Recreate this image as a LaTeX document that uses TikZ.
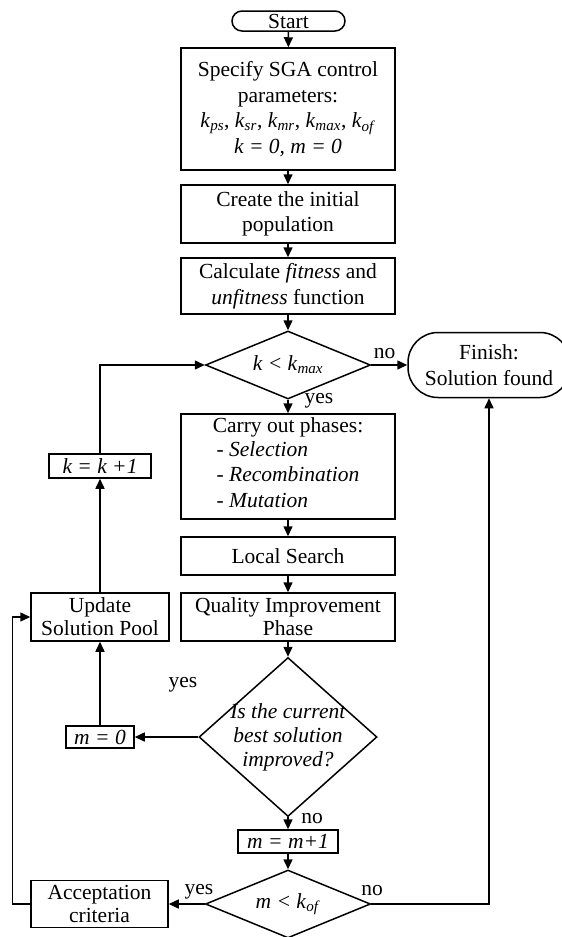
\documentclass[tikz,border=0pt]{standalone}
\usepackage{fontspec}
\setmainfont{Liberation Serif}
\usetikzlibrary{shapes.geometric,arrows.meta}

\newcommand{\ksub}[2]{\textit{#1}\textsubscript{\textit{#2}}}

\tikzset{
  block/.style={draw, line width=1.5pt, minimum width=214pt, align=center, inner sep=0pt},
  small/.style={draw, line width=1.5pt, align=center, inner sep=0pt},
  term/.style={draw, line width=1.5pt, align=center, inner sep=0pt},
  decision/.style={draw, diamond, line width=1.5pt, inner sep=0pt},
  flow/.style={line width=1.5pt, -{Triangle[length=10pt,width=9pt]}},
  tag/.style={inner sep=0pt},
  tight/.style={font=\fontsize{21.5}{23}\selectfont},
}

\begin{document}
\begin{tikzpicture}[x=1pt, y=-1pt, font=\fontsize{21.5}{25.5}\selectfont]
 \useasboundingbox (0,0) rectangle (562,937);

 % main column
 \node[term, rounded corners=10pt, minimum width=113pt, minimum height=20pt] (start) at (288.5,21) {Start};
 \node[block, minimum height=122pt] (spec) at (288,109)
   {Specify SGA control\\parameters:\\\ksub{k}{ps}, \ksub{k}{sr}, \ksub{k}{mr}, \ksub{k}{max}, \ksub{k}{of}\\\textit{k = 0, m = 0}};
 \node[block, minimum height=58pt] (create) at (288,214) {Create the initial\\population};
 \node[block, minimum height=56pt] (calc) at (288,286) {Calculate \textit{fitness} and\\\textit{unfitness} function};
 \node[decision, minimum width=165pt, minimum height=68pt,
       label={center:\textit{k <} \ksub{k}{max}}] (kmax) at (288,365) {};
 \node[term, rounded corners=30pt, minimum width=162pt, minimum height=65pt] (finish) at (489,365) {Finish:\\Solution found};
 \node[block, minimum height=105pt] (carry) at (288,466.5)
   {Carry out phases:\\{\begin{tabular}{@{}l@{}}- \textit{Selection}\\- \textit{Recombination}\\- \textit{Mutation}\end{tabular}}};
 \node[block, minimum height=38pt] (local) at (288,556) {Local Search};
 \node[block, tight, minimum height=48pt] (quality) at (288,617) {Quality Improvement\\Phase};
 \node[decision, minimum width=178pt, minimum height=159pt,
       label={[align=center, font=\fontsize{21.5}{24}\selectfont]center:{\textit{Is the current}\\\textit{best solution}\\\textit{improved?}}}] (better) at (288,737) {};
 \node[small, minimum width=100pt, minimum height=23pt] (minc) at (288,841.5) {\textit{m = m+1}};
 \node[decision, minimum width=165pt, minimum height=68pt,
       label={center:\textit{m <} \ksub{k}{of}}] (kof) at (288,904) {};

 % left column
 \node[small, minimum width=102pt, minimum height=24pt] (kinc) at (100,466) {\textit{k = k +1}};
 \node[small, tight, minimum width=138pt, minimum height=48pt] (pool) at (100,617) {Update\\Solution Pool};
 \node[small, minimum width=68pt, minimum height=22pt] (mzero) at (100,737) {\textit{m = 0}};
 \node[small, tight, minimum width=137pt, minimum height=47pt] (accept) at (99.5,904) {Acceptation\\criteria};

 % branch labels
 \node[tag] (no1)  at (384.5,354) {no};
 \node[tag] (yes1) at (319,401)   {yes};
 \node[tag] (yes2) at (183,684.5) {yes};
 \node[tag] (no2)  at (312,819)   {no};
 \node[tag] (yes3) at (199,892)   {yes};
 \node[tag] (no3)  at (372,891)   {no};

 \draw[flow] (start) -- (spec);
 \draw[flow] (spec) -- (create);
 \draw[flow] (create) -- (calc);
 \draw[flow] (calc) -- (kmax);
 \draw[flow] (kmax) -- (finish);
 \draw[flow] (kmax) -- (carry);
 \draw[flow] (carry) -- (local);
 \draw[flow] (local) -- (quality);
 \draw[flow] (quality) -- (better);
 \draw[flow] (better) -- (mzero);
 \draw[flow] (mzero) -- (pool);
 \draw[flow] (pool) -- (kinc);
 \draw[flow] (kinc) |- (kmax);
 \draw[flow] (better) -- (minc);
 \draw[flow] (minc) -- (kof);
 \draw[flow] (kof) -- (accept);
 \draw[flow] (kof) -| (finish);
 \draw[flow] (accept.west) -- ++(-18,0) |- (pool.west);
\end{tikzpicture}
\end{document}
